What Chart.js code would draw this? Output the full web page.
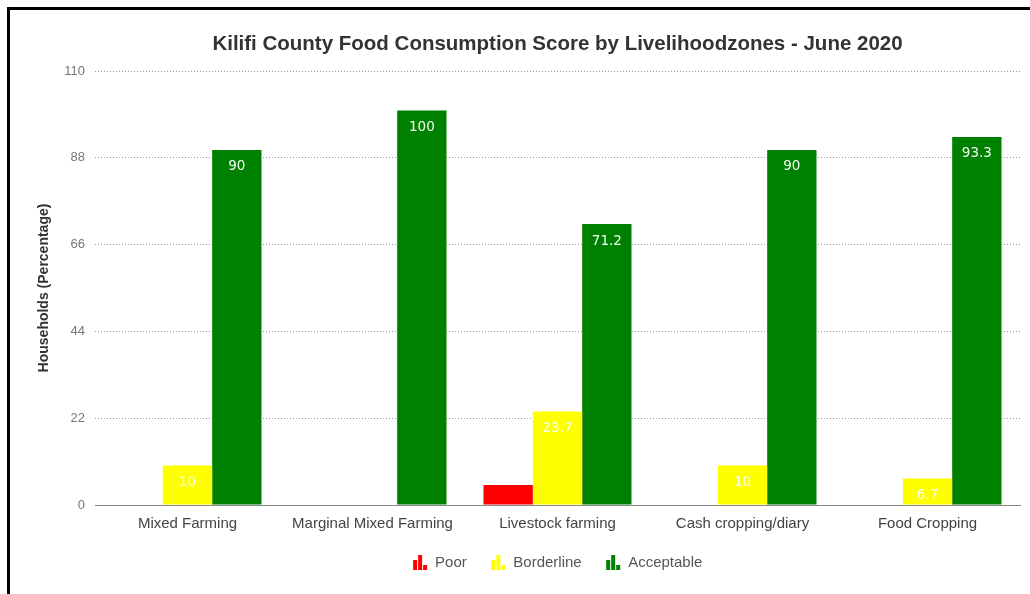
<!DOCTYPE html>
<html>
<head>
<meta charset="utf-8">
<script src="https://cdn.jsdelivr.net/npm/chart.js@4/dist/chart.umd.min.js"></script>
<style>
  html, body { margin: 0; padding: 0; background: #fff; }
  #wrap { position: relative; width: 1030px; height: 594px; }
  #frame { position: absolute; left: 7px; top: 7px; right: 0; bottom: 0;
           border-left: 3px solid #000; border-top: 3px solid #000; pointer-events: none; }
</style>
</head>
<body>
<div id="wrap">
  <canvas id="chart" width="1030" height="594"></canvas>
  <div id="frame"></div>
</div>
<script>
// Kilifi FCS by livelihood zone - grouped bars

const zones = ['Mixed Farming', 'Marginal Mixed Farming', 'Livestock farming', 'Cash cropping/diary', 'Food Cropping'];
const poor = [0, 0, 5.1, 0, 0];
const borderline = [10, 0, 23.7, 10, 6.7];
const acceptable = [90, 100, 71.2, 90, 93.3];
const yTicks = [0, 22, 44, 66, 88, 110];
const chartTitle = 'Kilifi County Food Consumption Score by Livelihoodzones - June 2020';

const RED = '#ff0000', YELLOW = '#ffff00', GREEN = '#008000';
const FONT = '"Liberation Sans", Arial, sans-serif';

// little bar-chart icon used in the legend
function barIcon(color) {
  const c = document.createElement('canvas');
  c.width = 16; c.height = 15;
  const g = c.getContext('2d');
  g.fillStyle = color;
  g.fillRect(1, 5, 4, 10);
  g.fillRect(6, 0, 4, 15);
  g.fillRect(11, 10, 4, 5);
  return c;
}

// title centred over the plot area
const plotTitle = {
  id: 'plotTitle',
  afterDraw(chart) {
    const { ctx, chartArea } = chart;
    ctx.save();
    ctx.font = 'bold 20.5px ' + FONT;
    ctx.fillStyle = '#333';
    ctx.textAlign = 'center';
    ctx.textBaseline = 'middle';
    ctx.fillText(chartTitle, (chartArea.left + chartArea.right) / 2, 44);
    ctx.restore();
  }
};

// centre the legend under the plot area rather than the whole canvas
const legendShift = {
  id: 'legendShift',
  afterLayout(chart) {
    const lg = chart.legend, ca = chart.chartArea;
    const dx = (ca.left + ca.right) / 2 - (lg.left + lg.right) / 2;
    lg.left += dx;
    lg.right += dx;
  }
};

// value labels inside the top of each bar (Poor not labelled)
const barLabels = {
  id: 'barLabels',
  afterDatasetsDraw(chart) {
    const ctx = chart.ctx;
    ctx.save();
    ctx.font = '13.5px "DejaVu Sans"';
    ctx.fillStyle = '#f2fff2';
    ctx.textAlign = 'center';
    ctx.textBaseline = 'middle';
    chart.data.datasets.forEach((ds, i) => {
      if (ds.label === 'Poor') return;
      chart.getDatasetMeta(i).data.forEach((bar, j) => {
        const v = ds.data[j];
        if (!v) return;
        ctx.fillText(String(v), bar.x, bar.y + 17);
      });
    });
    ctx.restore();
  }
};

new Chart(document.getElementById('chart'), {
  type: 'bar',
  data: {
    labels: zones,
    datasets: [
      { label: 'Poor', data: poor, backgroundColor: RED },
      { label: 'Borderline', data: borderline, backgroundColor: YELLOW },
      { label: 'Acceptable', data: acceptable, backgroundColor: GREEN }
    ]
  },
  options: {
    responsive: false,
    animation: false,
    categoryPercentage: 0.8,
    barPercentage: 1.0,
    layout: { padding: { left: 36, right: 10, top: 71, bottom: 14 } },
    plugins: {
      title: { display: false },
      legend: {
        position: 'bottom',
        labels: {
          color: '#555',
          font: { family: FONT, size: 15 },
          usePointStyle: true,
          padding: 24,
          generateLabels(chart) {
            return chart.data.datasets.map((ds, i) => ({
              text: ds.label,
              fontColor: '#555',
              pointStyle: barIcon(ds.backgroundColor),
              datasetIndex: i,
              lineWidth: 0,
              strokeStyle: 'transparent',
              fillStyle: ds.backgroundColor
            }));
          }
        }
      },
      tooltip: { enabled: false }
    },
    scales: {
      x: {
        grid: { display: false, drawTicks: false },
        border: { display: true, color: '#888', width: 1 },
        ticks: { color: '#444', padding: 10, font: { family: FONT, size: 15 } },
        afterFit(scale) { scale.height = 26; }
      },
      y: {
        min: 0, max: 110,
        afterBuildTicks(scale) { scale.ticks = yTicks.map(v => ({ value: v })); },
        grid: { color: '#999', drawTicks: false, lineWidth: 1 },
        border: { display: false, dash: [1, 2] },
        ticks: { color: '#777', padding: 10, font: { family: FONT, size: 13 } },
        title: {
          display: true,
          text: 'Households (Percentage)',
          color: '#333',
          font: { family: FONT, size: 14, weight: 'bold' },
          padding: { top: 0, bottom: 4 }
        },
        afterFit(scale) { scale.width = 59; }
      }
    }
  },
  plugins: [barLabels, plotTitle, legendShift]
});
</script>
</body>
</html>
